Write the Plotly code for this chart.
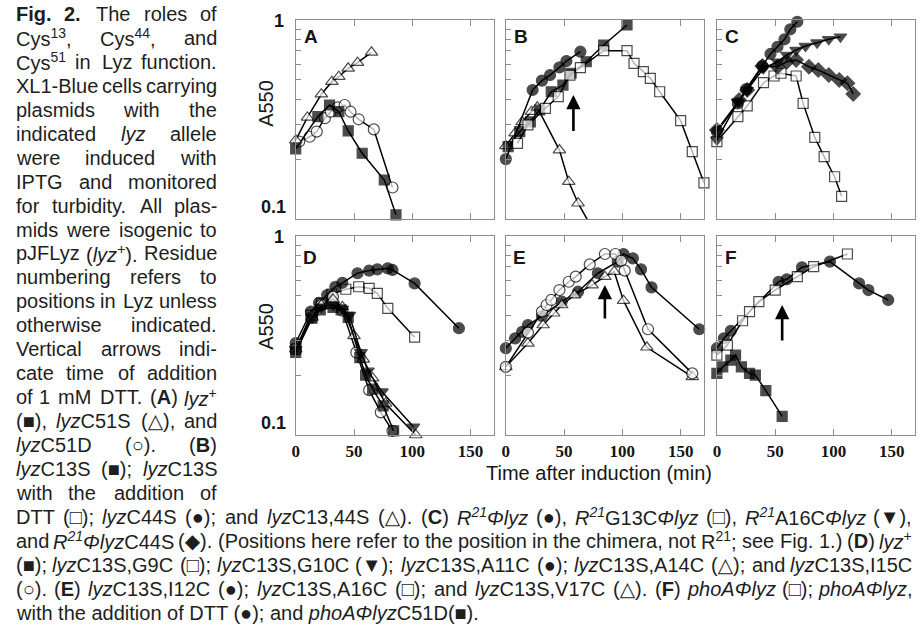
import re
import math
import plotly.graph_objects as go

FIG_W, FIG_H = 921, 627

# ---------------- data: time after induction (min) and A550 ----------------
# (A)
a_t_wt = [0, 19, 29, 37, 45, 57, 76, 86]
a_v_wt = [0.225, 0.327, 0.374, 0.346, 0.277, 0.214, 0.157, 0.105]
a_t_c51s = [0, 10, 22, 31, 37, 45, 53, 65]
a_v_c51s = [0.249, 0.324, 0.424, 0.49, 0.519, 0.572, 0.61, 0.688]
a_t_c51d = [3, 12, 18, 25, 30, 36, 42, 47, 54, 67, 83]
a_v_c51d = [0.245, 0.259, 0.275, 0.321, 0.346, 0.364, 0.374, 0.346, 0.317, 0.282, 0.144]

# (B)
b_t_c13s = [2, 12, 21, 29, 39, 49, 56, 69, 84, 104]
b_v_c13s = [0.231, 0.275, 0.308, 0.353, 0.436, 0.471, 0.54, 0.617, 0.749, 0.944]
b_t_c13s_dtt = [10, 19, 34, 45, 55, 64, 84, 104, 110, 118, 124, 132, 150, 160, 170]
b_v_c13s_dtt = [0.24, 0.297, 0.36, 0.412, 0.529, 0.576, 0.701, 0.701, 0.606, 0.55,
                0.509, 0.436, 0.312, 0.218, 0.152]
b_t_c44s = [0, 23, 31, 38, 46, 52, 64]
b_v_c44s = [0.2, 0.445, 0.496, 0.529, 0.578, 0.622, 0.693]
b_t_c13_44s = [0, 8, 14, 22, 27, 46, 54, 62, 75]
b_v_c13_44s = [0.233, 0.27, 0.308, 0.346, 0.364, 0.222, 0.154, 0.12, 0.088]

# (C)
c_t_r21 = [0, 18, 25, 39, 46, 52, 58, 63, 69]
c_v_r21 = [0.275, 0.381, 0.449, 0.587, 0.675, 0.734, 0.8, 0.898, 0.98]
c_t_g13c = [0, 18, 26, 40, 49, 55, 68, 74, 84, 92, 101, 107]
c_v_g13c = [0.245, 0.327, 0.37, 0.484, 0.523, 0.54, 0.523, 0.381, 0.257, 0.206, 0.163, 0.13]
c_t_a16c = [0, 18, 26, 40, 52, 60, 68, 76, 86, 96, 106]
c_v_a16c = [0.25, 0.388, 0.445, 0.572, 0.617, 0.667, 0.706, 0.74, 0.769, 0.8, 0.824]
c_t_c44s = [0, 19, 26, 39, 52, 60, 68, 79, 87, 96, 105, 112, 117]
c_v_c44s = [0.28, 0.396, 0.445, 0.587, 0.582, 0.617, 0.63, 0.582, 0.561, 0.529, 0.5, 0.481, 0.425]

# (D)
d_t_wt = [0, 14, 21, 32, 39, 45, 55, 60, 66, 75, 84]
d_v_wt = [0.26, 0.386, 0.425, 0.438, 0.425, 0.39, 0.245, 0.2, 0.17, 0.14, 0.105]
d_t_g9c = [0, 13, 22, 31, 43, 54, 63, 70, 79, 102]
d_v_g9c = [0.27, 0.40, 0.46, 0.51, 0.54, 0.556, 0.546, 0.515, 0.433, 0.31]
d_t_g10c = [0, 14, 22, 32, 40, 46, 56, 62, 74, 101]
d_v_g10c = [0.27, 0.39, 0.44, 0.45, 0.43, 0.40, 0.26, 0.21, 0.165, 0.11]
d_t_a11c = [0, 13, 20, 27, 34, 40, 53, 63, 70, 79, 83, 102, 140]
d_v_a11c = [0.29, 0.417, 0.462, 0.505, 0.556, 0.582, 0.65, 0.67, 0.68, 0.688, 0.675, 0.578, 0.344]
d_t_a14c = [0, 14, 22, 32, 40, 50, 58, 66, 77, 103]
d_v_a14c = [0.27, 0.39, 0.45, 0.48, 0.44, 0.315, 0.24, 0.193, 0.144, 0.1]
d_t_i15c = [0, 14, 22, 32, 40, 52, 63, 73, 83]
d_v_i15c = [0.27, 0.39, 0.45, 0.495, 0.421, 0.26, 0.168, 0.13, 0.105]

# (E)
e_t_i12c = [0, 8, 14, 19, 31, 48, 62, 79, 96, 101, 109, 116, 125, 166]
e_v_i12c = [0.273, 0.306, 0.33, 0.357, 0.396, 0.468, 0.525, 0.65, 0.743, 0.812, 0.772,
            0.68, 0.552, 0.34]
e_t_a16c = [0, 19, 31, 35, 39, 46, 54, 60, 72, 85, 94, 99, 102, 122, 160]
e_v_a16c = [0.22, 0.327, 0.417, 0.45, 0.477, 0.535, 0.589, 0.625, 0.72, 0.812, 0.812,
            0.751, 0.67, 0.34, 0.204]
e_t_v17c = [0, 19, 32, 41, 48, 59, 74, 85, 93, 101, 121, 160]
e_v_v17c = [0.22, 0.289, 0.357, 0.409, 0.45, 0.505, 0.567, 0.625, 0.662, 0.473, 0.276, 0.196]

# (F)
f_t_pho = [0, 9, 22, 28, 36, 50, 69, 83, 112]
f_v_pho = [0.252, 0.283, 0.375, 0.417, 0.468, 0.535, 0.625, 0.701, 0.812]
f_t_pho_dtt = [0, 6, 12, 53, 60, 73, 97, 122, 130, 147]
f_v_pho_dtt = [0.273, 0.306, 0.334, 0.589, 0.606, 0.696, 0.743, 0.578, 0.535, 0.477]
f_t_c51d = [0, 5, 12, 16, 21, 28, 33, 42, 56]
f_v_c51d = [0.204, 0.22, 0.238, 0.252, 0.22, 0.204, 0.2, 0.167, 0.124]

# time of DTT addition (min) in panels B, E, F
dtt_time = {"B": 58, "E": 85, "F": 56}

panel_letters = ["A", "B", "C", "D", "E", "F"]
x_ticks = [0, 50, 100, 150]
y_ticks = [0.1, 0.2, 0.3, 0.4, 0.5, 0.6, 0.7, 0.8, 0.9, 1.0]

# series per panel: (times, values, symbol, filled)
panel_series = {
    "A": [(a_t_c51d, a_v_c51d, "circle", False),
          (a_t_wt, a_v_wt, "square", True),
          (a_t_c51s, a_v_c51s, "triangle-up", False)],
    "B": [(b_t_c13_44s, b_v_c13_44s, "triangle-up", False),
          (b_t_c44s, b_v_c44s, "circle", True),
          (b_t_c13s, b_v_c13s, "square", True),
          (b_t_c13s_dtt, b_v_c13s_dtt, "square", False)],
    "C": [(c_t_g13c, c_v_g13c, "square", False),
          (c_t_c44s, c_v_c44s, "diamond", True),
          (c_t_a16c, c_v_a16c, "triangle-down", True),
          (c_t_r21, c_v_r21, "circle", True)],
    "D": [(d_t_g9c, d_v_g9c, "square", False),
          (d_t_a11c, d_v_a11c, "circle", True),
          (d_t_i15c, d_v_i15c, "circle", False),
          (d_t_a14c, d_v_a14c, "triangle-up", False),
          (d_t_wt, d_v_wt, "square", True),
          (d_t_g10c, d_v_g10c, "triangle-down", True)],
    "E": [(e_t_i12c, e_v_i12c, "circle", True),
          (e_t_v17c, e_v_v17c, "triangle-up", False),
          (e_t_a16c, e_v_a16c, "circle", False)],
    "F": [(f_t_c51d, f_v_c51d, "square", True),
          (f_t_pho_dtt, f_v_pho_dtt, "circle", True),
          (f_t_pho, f_v_pho, "square", False)],
}

# ---------------- geometry (pixels) ----------------
COL_LEFT = [293, 504, 716]
ROW_TOP = [20, 236]
PANEL = 199
X_RANGE = [0, 170]

AXIS_GREY = "#8c8c8c"
INK = "#161616"

MARKER_SIZE = {"square": 10, "circle": 11, "triangle-up": 11,
               "triangle-down": 11, "diamond": 11}


def fx(px):
    return px / FIG_W


def fy(py):
    return 1 - py / FIG_H


fig = go.Figure()
layout_axes = {}

for k, letter in enumerate(panel_letters):
    row, col = divmod(k, 3)
    left, top = COL_LEFT[col], ROW_TOP[row]
    sfx = "" if k == 0 else str(k + 1)
    xa, ya = "x" + sfx, "y" + sfx

    layout_axes["xaxis" + sfx] = dict(
        domain=[fx(left), fx(left + PANEL)], anchor=ya, range=X_RANGE,
        tickmode="array", tickvals=x_ticks, ticktext=[str(v) for v in x_ticks],
        showticklabels=(row == 1), ticks="inside", ticklen=6, tickwidth=1.2,
        tickcolor=AXIS_GREY, showline=True, linecolor=AXIS_GREY, linewidth=1.3,
        mirror="ticks", showgrid=False, zeroline=False,
        tickfont=dict(family="Liberation Serif", size=17, color=INK, weight="bold"),
    )
    layout_axes["yaxis" + sfx] = dict(
        domain=[fy(top + PANEL), fy(top)], anchor=xa, type="log", range=[-1, 0],
        tickmode="array", tickvals=y_ticks, showticklabels=False,
        ticks="inside", ticklen=5, tickwidth=1.2, tickcolor=AXIS_GREY,
        showline=True, linecolor=AXIS_GREY, linewidth=1.3, mirror=True,
        showgrid=False, zeroline=False,
    )

    for t, v, sym, filled in panel_series[letter]:
        sizes = [MARKER_SIZE[sym] if val >= 0.1 else 0 for val in v]
        fig.add_trace(go.Scatter(
            x=t, y=v, xaxis=xa, yaxis=ya, mode="lines+markers",
            line=dict(color="black", width=1.5),
            marker=dict(symbol=sym, size=sizes,
                        color="black" if filled else "white",
                        line=dict(color="black", width=1.2)),
            cliponaxis=False, showlegend=False, hoverinfo="skip",
        ))

    # DTT addition arrow
    if letter in dtt_time:
        vmid = {"B": (0.272, 0.42), "E": (0.378, 0.567), "F": (0.293, 0.45)}[letter]
        fig.add_annotation(
            x=dtt_time[letter], y=math.log10(vmid[1]), xref=xa, yref=ya,
            ax=dtt_time[letter], ay=math.log10(vmid[0]), axref=xa, ayref=ya,
            text="", showarrow=True, arrowhead=2, arrowsize=1.1, arrowwidth=2.6,
            arrowcolor="black", standoff=0,
        )

    # panel letter
    fig.add_annotation(
        x=fx(left + (15 if row == 0 else 14)), y=fy(top + (16.5 if row == 0 else 22)),
        xref="paper", yref="paper", text="<b>%s</b>" % letter, showarrow=False,
        xanchor="center", yanchor="middle",
        font=dict(family="Liberation Sans", size=19, color=INK),
    )

# y-axis labels, titles
for top, title_y in zip(ROW_TOP, [103, 326]):
    fig.add_annotation(x=fx(283), y=fy(top + 1), xref="paper", yref="paper",
                       text="<b>1</b>", showarrow=False, xanchor="right",
                       yanchor="middle",
                       font=dict(family="Liberation Sans", size=18, color=INK))
    fig.add_annotation(x=fx(285), y=fy(top + PANEL - 12), xref="paper", yref="paper",
                       text="<b>0.1</b>", showarrow=False, xanchor="right",
                       yanchor="middle",
                       font=dict(family="Liberation Sans", size=18, color=INK))
    fig.add_annotation(x=fx(263), y=fy(title_y), xref="paper", yref="paper",
                       text="A550", textangle=-90, showarrow=False,
                       xanchor="center", yanchor="middle",
                       font=dict(family="Liberation Sans", size=20, color=INK))

fig.add_annotation(x=fx(598), y=fy(473), xref="paper", yref="paper",
                   text="Time after induction (min)", showarrow=False,
                   xanchor="center", yanchor="middle",
                   font=dict(family="Liberation Sans", size=20, color=INK))

# ---------------- caption ----------------
caption_side = [
    "<b>Fig.</b> <b>2.</b> The roles of",
    "Cys<sup>13</sup>, Cys<sup>44</sup>, and",
    "Cys<sup>51</sup> in Lyz function.",
    "XL1-Blue cells carrying",
    "plasmids with the",
    "indicated <i>lyz</i> allele",
    "were induced with",
    "IPTG and monitored",
    "for turbidity. All plas-",
    "mids were isogenic to",
    "pJFLyz (<i>lyz</i><sup>+</sup>). Residue",
    "numbering refers to",
    "positions in Lyz unless",
    "otherwise indicated.",
    "Vertical arrows indi-",
    "cate time of addition",
    "of 1 mM DTT. (<b>A</b>) <i>lyz</i><sup>+</sup>",
    "(■), <i>lyz</i>C51S (△), and",
    "<i>lyz</i>C51D (○). (<b>B</b>)",
    "<i>lyz</i>C13S (■); <i>lyz</i>C13S",
    "with the addition of",
]
caption_full = [
    "DTT (□); <i>lyz</i>C44S (●); and <i>lyz</i>C13,44S (△). (<b>C</b>) "
    "<i>R<sup>21</sup>Φlyz</i> (●), <i>R<sup>21</sup></i>G13C<i>Φlyz</i> (□), "
    "<i>R<sup>21</sup></i>A16C<i>Φlyz</i> (▼),",
    "and <i>R<sup>21</sup>Φlyz</i>C44S (◆). (Positions here refer to the position "
    "in the chimera, not R<sup>21</sup>; see Fig. 1.) (<b>D</b>) <i>lyz</i><sup>+</sup>",
    "(■); <i>lyz</i>C13S,G9C (□); <i>lyz</i>C13S,G10C (▼); <i>lyz</i>C13S,A11C (●); "
    "<i>lyz</i>C13S,A14C (△); and <i>lyz</i>C13S,I15C",
    "(○). (<b>E</b>) <i>lyz</i>C13S,I12C (●); <i>lyz</i>C13S,A16C (□); and "
    "<i>lyz</i>C13S,V17C (△). (<b>F</b>) <i>phoAΦlyz</i> (□); <i>phoAΦlyz</i>,",
]
caption_last = "with the addition of DTT (●); and <i>phoAΦlyz</i>C51D(■)."

CAP_SIZE = 20
CAP_FONT = dict(family="Liberation Sans, DejaVu Sans", size=CAP_SIZE, color="#1e1e1e")
LINE_0, LINE_STEP = 14.0, 23.95

# advance widths (1/1000 em) used to spread words over a justified line
_W = {' ': 278, '(': 333, ')': 333, ',': 278, '.': 278, ';': 278, '-': 333, '+': 584,
      'Φ': 764, '■': 604, '□': 604, '●': 604, '○': 604, '▼': 990, '△': 770, '◆': 770}
_W.update({d: 556 for d in "0123456789"})
_W.update(dict(zip("ABCDEFGHIJKLMNOPQRSTUVWXYZ",
                   [667, 667, 722, 722, 667, 611, 778, 722, 278, 500, 667, 556, 833,
                    722, 778, 667, 778, 722, 667, 611, 722, 667, 944, 667, 667, 611])))
_W.update(dict(zip("abcdefghijklmnopqrstuvwxyz",
                   [556, 556, 500, 556, 556, 278, 556, 556, 222, 222, 500, 222, 833,
                    556, 556, 556, 556, 333, 500, 278, 556, 500, 722, 500, 500, 500])))
_WB = {'F': 611, 'i': 278, 'g': 611, 'A': 722, 'B': 722, 'C': 722, 'D': 722, 'E': 667}


def word_width(s, size):
    w, scale, bold = 0.0, 1.0, False
    for m in re.finditer(r"<(/?)(\w+)>|([^<]+)", s):
        if m.group(2):
            closing = m.group(1) == "/"
            if m.group(2) == "sup":
                scale = 1.0 if closing else 0.7
            elif m.group(2) == "b":
                bold = not closing
        else:
            for ch in m.group(3):
                cw = _WB.get(ch, _W.get(ch, 600)) if bold else _W.get(ch, 600)
                w += cw * scale
    return w * size / 1000.0


def justified_line(text, left, right, y_px):
    words = text.split(" ")
    widths = [word_width(w, CAP_SIZE) for w in words]
    gap = (right - left - sum(widths)) / (len(words) - 1)
    x = left
    for i, (w, wd) in enumerate(zip(words, widths)):
        if i == 0:
            xa, anchor = x, "left"
        elif i == len(words) - 1:
            xa, anchor = right, "right"
        else:
            xa, anchor = x + wd / 2, "center"
        fig.add_annotation(x=fx(xa), y=fy(y_px), xref="paper", yref="paper", text=w,
                           showarrow=False, xanchor=anchor, yanchor="middle",
                           borderpad=0, font=CAP_FONT)
        x += wd + gap


line_no = 0
for txt in caption_side:
    justified_line(txt, 11, 215, LINE_0 + line_no * LINE_STEP)
    line_no += 1
for txt in caption_full:
    justified_line(txt, 11, 913, LINE_0 + line_no * LINE_STEP)
    line_no += 1
fig.add_annotation(x=fx(11), y=fy(LINE_0 + line_no * LINE_STEP), xref="paper",
                   yref="paper", text=caption_last, showarrow=False, xanchor="left",
                   yanchor="middle", borderpad=0, font=CAP_FONT)

fig.update_layout(
    width=FIG_W, height=FIG_H, margin=dict(l=0, r=0, t=0, b=0),
    paper_bgcolor="white", plot_bgcolor="white", showlegend=False,
    **layout_axes,
)

fig.write_html("out.html")
